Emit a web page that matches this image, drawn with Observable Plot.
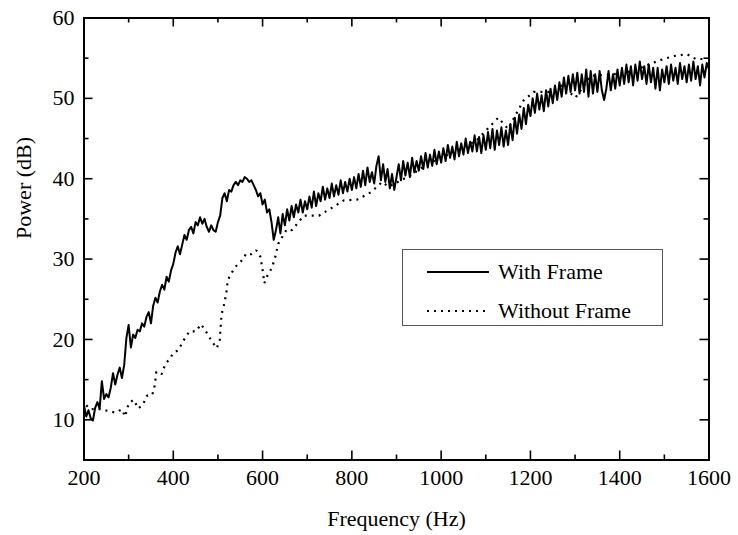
<!DOCTYPE html>
<html>
<head>
<meta charset="utf-8">
<script src="https://cdn.jsdelivr.net/npm/d3@7"></script>
<script src="https://cdn.jsdelivr.net/npm/@observablehq/plot@0.6"></script>
<style>
  html, body { margin: 0; padding: 0; background: #fff; }
  #wrap { position: relative; width: 738px; height: 535px; font-family: "Liberation Serif", "Times New Roman", serif; }
  #legend { position: absolute; left: 402px; top: 249px; width: 259px; height: 75px; border: 1.5px solid #555; background: #fff; font-size: 22px; color: #000; }
  #legend .row { position: absolute; left: 0; display: flex; align-items: center; }
  #legend svg { display: block; }
</style>
</head>
<body>
<div id="wrap"></div>
<script>
// ---- data ----
const seriesNames = ["With Frame", "Without Frame"];
const xLabel = "Frequency (Hz)";
const yLabel = "Power (dB)";
const xMajorTicks = [200, 400, 600, 800, 1000, 1200, 1400, 1600];
const xMinorTicks = [300, 500, 700, 900, 1100, 1300, 1500];
const yMajorTicks = [10, 20, 30, 40, 50, 60];
const yMinorTicks = [15, 25, 35, 45, 55];

// With Frame: sampled every 5 Hz from 200 to 1600 Hz
const withFrameFreq = d3.range(200, 1601, 5);
const withFramePower = [
  11.8, 10.4, 11.2, 10.2, 9.9, 11.5, 12.2, 11.4, 14.8, 12.6, 13.2, 12.8, 14.0, 15.8, 14.4, 15.6, 16.5, 15.2, 16.8, 20.2,
  21.8, 19.0, 20.6, 20.2, 21.2, 21.0, 22.0, 21.6, 22.8, 23.4, 22.0, 24.2, 25.2, 24.6, 26.0, 26.8, 26.2, 27.8, 27.2, 28.6,
  29.4, 30.8, 31.6, 30.6, 31.8, 33.0, 32.4, 33.6, 34.0, 33.2, 34.6, 34.2, 35.2, 34.4, 35.0, 34.0, 33.4, 34.2, 33.6, 33.4,
  34.6, 35.4, 37.6, 38.2, 37.2, 38.6, 38.4, 39.2, 39.6, 39.2, 39.8, 39.6, 40.2, 40.0, 39.6, 39.8, 39.2, 38.6, 37.8, 38.2,
  36.8, 37.4, 35.8, 36.2, 34.6, 32.4, 33.6, 35.2, 33.2, 35.6, 34.2, 36.2, 34.8, 36.6, 35.2, 36.8, 35.8, 37.4, 35.8, 37.2,
  36.2, 37.8, 36.4, 38.4, 36.6, 38.2, 37.2, 39.0, 37.4, 38.8, 37.6, 39.4, 37.8, 39.2, 38.0, 39.8, 38.2, 39.6, 38.4, 40.0,
  38.6, 40.2, 38.8, 40.6, 39.0, 41.0, 39.2, 41.4, 39.6, 40.8, 39.4, 41.6, 42.8, 39.8, 41.8, 39.6, 41.2, 38.8, 40.6, 38.6,
  40.2, 41.8, 39.8, 42.2, 40.4, 42.0, 40.2, 42.6, 40.8, 42.2, 41.0, 42.8, 41.2, 43.2, 41.4, 43.0, 41.6, 43.6, 41.8, 43.4,
  42.0, 43.8, 42.2, 44.2, 42.6, 44.0, 42.4, 44.6, 42.8, 44.4, 43.0, 45.0, 43.2, 44.6, 43.4, 45.4, 43.4, 45.2, 43.2, 45.4,
  43.6, 45.8, 43.8, 46.2, 43.6, 46.0, 44.2, 46.4, 44.0, 46.0, 44.2, 46.8, 44.8, 47.6, 45.6, 48.0, 46.2, 48.8, 46.8, 49.2,
  47.8, 50.0, 48.2, 50.6, 48.6, 50.4, 48.4, 51.0, 49.0, 51.2, 49.4, 51.6, 49.8, 52.0, 50.2, 52.6, 50.6, 52.8, 50.8, 53.0,
  51.0, 53.2, 50.6, 53.0, 50.8, 53.6, 50.2, 53.4, 50.6, 53.0, 50.8, 53.4, 51.0, 49.8, 51.2, 53.4, 51.0, 53.0, 51.2, 53.6,
  51.6, 53.8, 51.8, 54.2, 52.0, 54.0, 51.6, 54.2, 52.2, 54.6, 52.4, 54.0, 51.8, 54.2, 52.0, 53.8, 51.2, 53.8, 51.0, 53.6,
  52.0, 54.0, 51.8, 54.2, 52.2, 53.8, 51.8, 54.4, 52.4, 54.0, 52.0, 54.2, 52.2, 54.6, 52.4, 54.0, 51.6, 54.2, 52.6, 54.4, 53.6
];

// Without Frame: read points
const withoutFrameFreq = [
  205, 215, 230, 245, 255, 270, 285, 292, 300, 311, 322, 333, 341, 353, 359, 362, 374, 382, 392, 400,
  412, 421, 436, 451, 462, 472, 486, 497, 504, 506, 508, 513, 519, 522, 532, 543, 551, 558, 563, 575,
  586, 595, 600, 604, 612, 621, 629, 635, 654, 666, 692, 726, 756, 782, 812, 842, 868, 882, 931, 969,
  1000, 1040, 1080, 1128, 1150, 1184, 1207, 1245, 1270, 1301, 1335, 1386, 1430, 1469, 1498, 1525, 1551, 1570, 1596
];
const withoutFramePower = [
  11.8, 11.3, 11.4, 11.2, 11.1, 10.9, 11.3, 10.4, 12.0, 12.5, 11.4, 12.0, 13.0, 13.1, 14.4, 16.0, 15.7, 16.9, 17.6, 18.3,
  18.7, 19.7, 21.0, 21.0, 21.9, 21.1, 19.8, 18.9, 19.8, 21.5, 23.1, 24.2, 25.8, 27.4, 28.4, 29.3, 29.7, 30.1, 30.7, 30.6,
  31.1, 30.3, 28.7, 27.0, 28.1, 28.9, 30.4, 31.9, 33.7, 33.6, 35.4, 35.4, 36.4, 37.3, 37.4, 38.3, 39.6, 39.0, 40.4, 41.8,
  42.6, 43.6, 44.8, 47.6, 46.2, 49.7, 50.8, 50.8, 51.6, 50.1, 52.8, 53.0, 53.4, 54.3, 54.9, 55.3, 55.5, 54.9, 54.9
];

// ---- tables ----
const withData = withFrameFreq.map((f, i) => ({f, p: withFramePower[i]}));
const withoutData = withoutFrameFreq.map((f, i) => ({f, p: withoutFramePower[i]}));

const W = 738, H = 535, mL = 83.5, mR = 29.5, mT = 17.5, mB = 75.5;
const frameW = W - mL - mR, frameH = H - mT - mB;
const major = 9, minor = 5;
const tickStyle = {stroke: "#000", strokeWidth: 1.6};

const font = "Liberation Serif, Times New Roman, serif";
const chart = Plot.plot({
  width: W,
  height: H,
  marginLeft: mL,
  marginRight: mR,
  marginTop: mT,
  marginBottom: mB,
  style: {fontFamily: font, fontSize: "22px", color: "#000", background: "#fff"},
  x: {domain: [200, 1600]},
  y: {domain: [5, 60]},
  marks: [
    // tick labels only
    Plot.axisX(xMajorTicks, {anchor: "bottom", tickSize: 0, tickPadding: 9, tickFormat: d => String(d), fontSize: 22, label: null}),
    Plot.axisY(yMajorTicks, {anchor: "left", tickSize: 0, tickPadding: 9.5, tickFormat: d => String(d), fontSize: 22, label: null}),
    // inward ticks, bottom and top
    Plot.tickX(xMajorTicks, {x: d => d, insetTop: frameH - major, ...tickStyle}),
    Plot.tickX(xMinorTicks, {x: d => d, insetTop: frameH - minor, ...tickStyle}),
    Plot.tickX(xMajorTicks, {x: d => d, insetBottom: frameH - major, ...tickStyle}),
    Plot.tickX(xMinorTicks, {x: d => d, insetBottom: frameH - minor, ...tickStyle}),
    // inward ticks, left and right
    Plot.tickY(yMajorTicks, {y: d => d, insetRight: frameW - major, ...tickStyle}),
    Plot.tickY(yMinorTicks, {y: d => d, insetRight: frameW - minor, ...tickStyle}),
    Plot.tickY(yMajorTicks, {y: d => d, insetLeft: frameW - major, ...tickStyle}),
    Plot.tickY(yMinorTicks, {y: d => d, insetLeft: frameW - minor, ...tickStyle}),
    Plot.line(withoutData, {x: "f", y: "p", stroke: "#000", strokeWidth: 2.2, strokeDasharray: "2,5", strokeLinecap: "butt", strokeLinejoin: "miter", curve: "linear"}),
    Plot.line(withData, {x: "f", y: "p", stroke: "#000", strokeWidth: 2, curve: "linear"}),
    Plot.frame({stroke: "#000", strokeWidth: 2}),
    Plot.text([xLabel], {frameAnchor: "bottom", dy: 66, fontSize: 22, fill: "#000"}),
    Plot.text([yLabel], {frameAnchor: "left", dx: -60, rotate: -90, fontSize: 22, fill: "#000"})
  ]
});
const wrap = document.getElementById("wrap");
wrap.appendChild(chart);

// legend overlay
const legend = document.createElement("div");
legend.id = "legend";
const rows = [
  {name: seriesNames[0], top: 9, dash: null},
  {name: seriesNames[1], top: 48, dash: "2,5"}
];
for (const r of rows) {
  const row = document.createElement("div");
  row.className = "row";
  row.style.top = r.top + "px";
  row.style.left = "24px";
  const ns = "http://www.w3.org/2000/svg";
  const s = document.createElementNS(ns, "svg");
  s.setAttribute("width", "64");
  s.setAttribute("height", "26");
  const l = document.createElementNS(ns, "line");
  l.setAttribute("x1", "0"); l.setAttribute("x2", "62");
  l.setAttribute("y1", "13"); l.setAttribute("y2", "13");
  l.setAttribute("stroke", "#000");
  l.setAttribute("stroke-width", r.dash ? "2.2" : "2");
  if (r.dash) l.setAttribute("stroke-dasharray", r.dash);
  s.appendChild(l);
  const t = document.createElement("span");
  t.textContent = r.name;
  t.style.marginLeft = "7px";
  t.style.lineHeight = "26px";
  row.appendChild(s);
  row.appendChild(t);
  legend.appendChild(row);
}
wrap.appendChild(legend);
</script>
</body>
</html>
